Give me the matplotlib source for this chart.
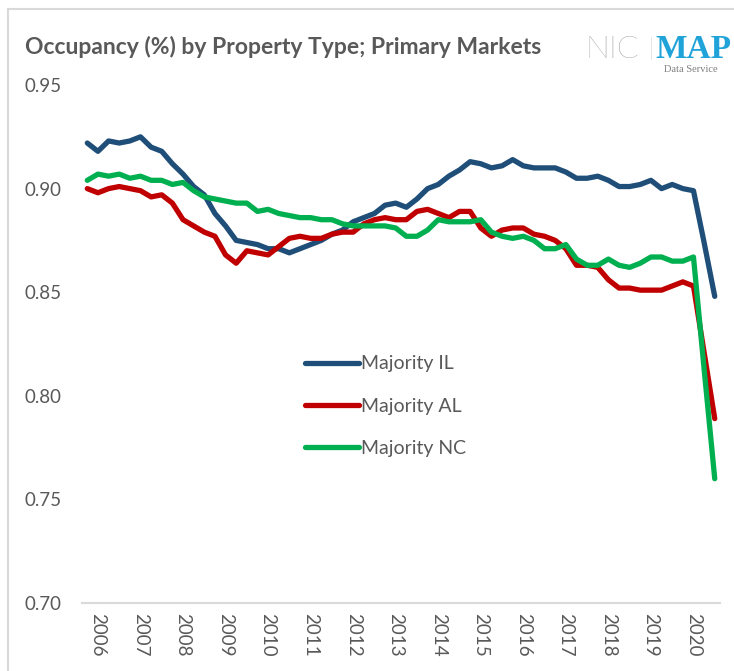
import matplotlib.pyplot as plt
from matplotlib.patches import Rectangle

plt.rcParams['font.family'] = ['Lato', 'DejaVu Sans']

# Quartale 2005Q4 .. 2020Q3
quarters = ['2005Q4'] + [f'{y}Q{q}' for y in range(2006, 2021) for q in (1, 2, 3, 4)][:59]
years = [str(y) for y in range(2006, 2021)]

# Belegung (Anteil) nach Objektart
il = [0.922, 0.918, 0.923, 0.922, 0.923, 0.925, 0.920, 0.918, 0.912, 0.907,
      0.901, 0.897, 0.888, 0.882, 0.875, 0.874, 0.873, 0.871, 0.871, 0.869,
      0.871, 0.873, 0.875, 0.878, 0.880, 0.884, 0.886, 0.888, 0.892, 0.893,
      0.891, 0.895, 0.900, 0.902, 0.906, 0.909, 0.913, 0.912, 0.910, 0.911,
      0.914, 0.911, 0.910, 0.910, 0.910, 0.908, 0.905, 0.905, 0.906, 0.904,
      0.901, 0.901, 0.902, 0.904, 0.900, 0.902, 0.900, 0.899, 0.874, 0.848]
al = [0.900, 0.898, 0.900, 0.901, 0.900, 0.899, 0.896, 0.897, 0.893, 0.885,
      0.882, 0.879, 0.877, 0.868, 0.864, 0.870, 0.869, 0.868, 0.872, 0.876,
      0.877, 0.876, 0.876, 0.878, 0.879, 0.879, 0.883, 0.885, 0.886, 0.885,
      0.885, 0.889, 0.890, 0.888, 0.886, 0.889, 0.889, 0.881, 0.877, 0.880,
      0.881, 0.881, 0.878, 0.877, 0.875, 0.871, 0.863, 0.863, 0.862, 0.856,
      0.852, 0.852, 0.851, 0.851, 0.851, 0.853, 0.855, 0.853, 0.821, 0.789]
nc = [0.904, 0.907, 0.906, 0.907, 0.905, 0.906, 0.904, 0.904, 0.902, 0.903,
      0.899, 0.896, 0.895, 0.894, 0.893, 0.893, 0.889, 0.890, 0.888, 0.887,
      0.886, 0.886, 0.885, 0.885, 0.883, 0.882, 0.882, 0.882, 0.882, 0.881,
      0.877, 0.877, 0.880, 0.885, 0.884, 0.884, 0.884, 0.885, 0.879, 0.877,
      0.876, 0.877, 0.875, 0.871, 0.871, 0.873, 0.866, 0.863, 0.863, 0.866,
      0.863, 0.862, 0.864, 0.867, 0.867, 0.865, 0.865, 0.867, 0.813, 0.760]

grau = '#595959'

fig = plt.figure(figsize=(7.34, 6.71), dpi=100)
ax = fig.add_axes([0.1117, 0.1013, 0.8693, 0.772])

ax.plot(quarters, il, color='#1F4E79', lw=3.8, solid_capstyle='round', label='Majority IL')
ax.plot(quarters, al, color='#C00000', lw=3.8, solid_capstyle='round', label='Majority AL')
ax.plot(quarters, nc, color='#00B050', lw=3.8, solid_capstyle='round', label='Majority NC')

ax.set_xlim(-0.5, len(quarters) - 0.5)
ax.set_ylim(0.70, 0.95)
ax.set_yticks([0.70, 0.75, 0.80, 0.85, 0.90, 0.95])
ax.set_yticklabels(['0.70', '0.75', '0.80', '0.85', '0.90', '0.95'])
ax.set_xticks([quarters.index(y + 'Q1') for y in years])
ax.set_xticklabels(years, rotation=-90)
ax.tick_params(length=0, labelsize=13.5, labelcolor=grau)
ax.tick_params(axis='y', pad=15)
ax.tick_params(axis='x', pad=7)
for s in ('top', 'right', 'left'):
    ax.spines[s].set_visible(False)
ax.spines['bottom'].set_color('#D9D9D9')
ax.spines['bottom'].set_linewidth(1.5)

leg = ax.legend(loc='upper left', bbox_to_anchor=(0.3495, 0.478), frameon=False,
                borderpad=0, borderaxespad=0, handlelength=2.8, handletextpad=0.1,
                labelspacing=1.3, fontsize=14)
for t in leg.get_texts():
    t.set_color(grau)

fig.text(0.034, 0.920, 'Occupancy (%) by Property Type; Primary Markets',
         fontsize=16.5, fontweight='bold', color=grau, va='baseline')

# Logo
fig.text(0.797, 0.914, 'NIC', fontsize=23, color='#6F6F6F', fontweight='light', va='baseline')
fig.text(0.883, 0.917, '|', fontsize=17, color='#A6A6A6', fontweight='light', va='baseline')
fig.text(0.893, 0.914, 'MAP', fontsize=24, color='#1FA3D9', fontweight='bold',
         family='Liberation Serif', va='baseline')
fig.text(0.978, 0.893, 'Data Service', fontsize=7.5, color='#7F7F7F',
         family='Liberation Serif', va='baseline', ha='right')

fig.patches.append(Rectangle((8 / 734, -0.1), 2, 1.1 - 9 / 671, transform=fig.transFigure,
                             fill=False, edgecolor='#D9D9D9', lw=1.5))

plt.savefig('out.png', dpi=100)
